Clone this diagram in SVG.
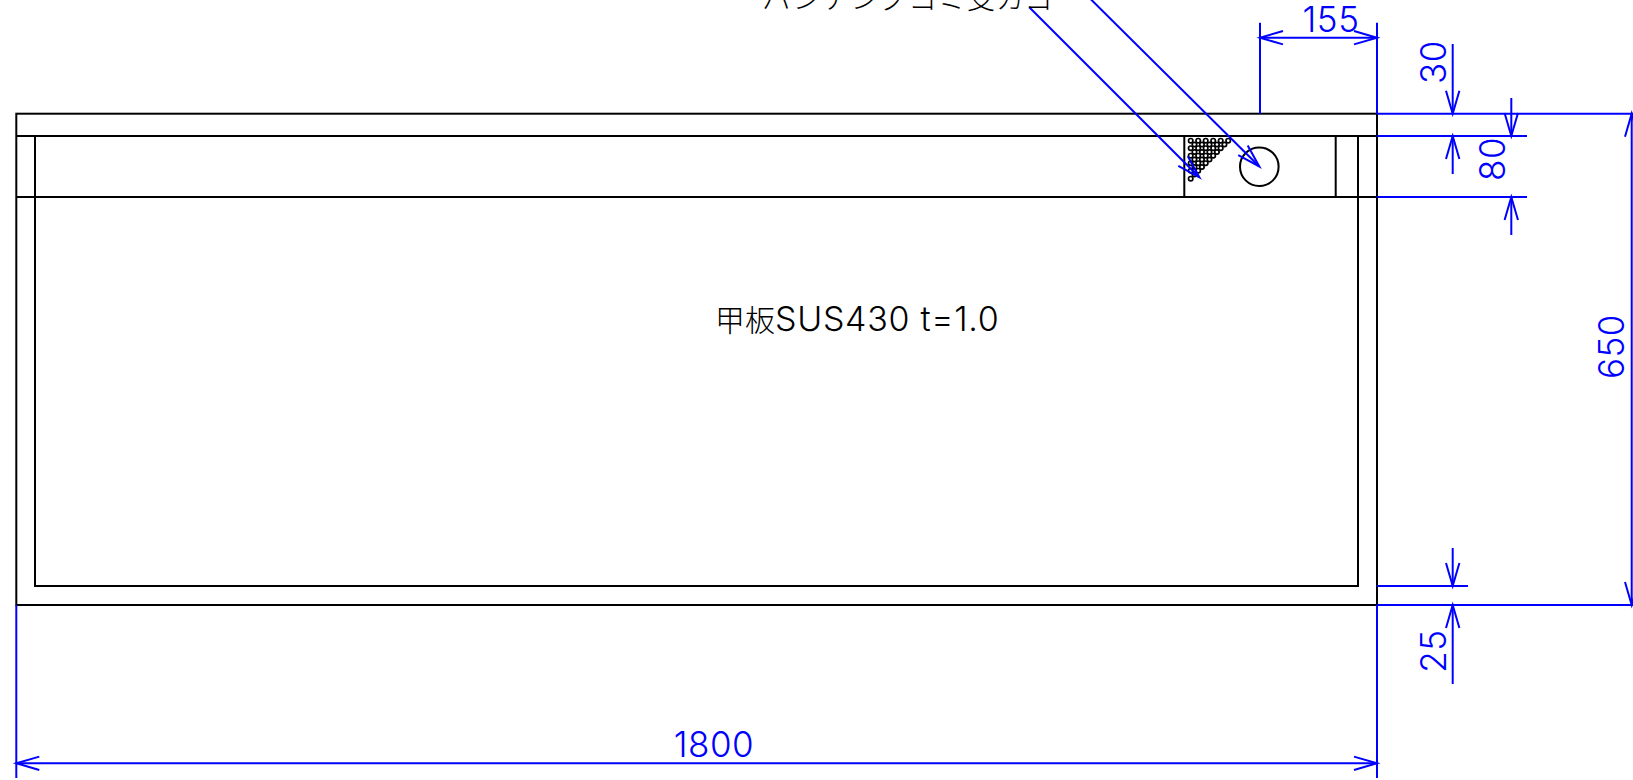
<svg xmlns="http://www.w3.org/2000/svg" width="1633" height="780" viewBox="0 0 1633 780">
<style>
.k{fill:none;stroke:#000;stroke-width:2}
.b{fill:none;stroke:#0000ff;stroke-width:2}
.h{fill:none;stroke:#000;stroke-width:1.7}
.d{fill:#0000ff;font-family:"Inter","Noto Sans CJK JP","Liberation Sans",sans-serif;font-weight:300;font-size:35px;letter-spacing:.5px}
.t{fill:#000;font-family:"Inter","Noto Sans CJK JP","Liberation Sans",sans-serif;font-weight:300;font-size:30px}
.l{font-size:34px;letter-spacing:.7px}
.j{fill:#000;font-family:"Noto Sans CJK JP","Liberation Sans",sans-serif;font-weight:300;font-size:29px}
</style>
<defs>
<marker id="v" markerUnits="userSpaceOnUse" markerWidth="26" markerHeight="18" refX="24" refY="9" orient="auto-start-reverse" overflow="visible">
<path d="M1 2.3L24 9L1 15.7" fill="none" stroke="#0000ff" stroke-width="2"/>
</marker>
<circle id="c" r="2.2" class="h"/>
</defs>
<rect width="1633" height="780" fill="#fff"/>
<g id="plate">
<rect class="k" x="16.3" y="113.7" width="1360.7" height="491.3"/>
<rect class="k" x="35" y="136" width="1323" height="450"/>
<path class="k" d="M16.3 136H1377M16.3 197H1377M1184.3 136V197M1335.7 136V197"/>
</g>
<g id="opening">
<circle class="k" cx="1259.3" cy="166.7" r="19.3"/>
</g>
<g id="punching">
<g class="h">
<use href="#c" x="1190.7" y="140.7"/><use href="#c" x="1198.2" y="140.7"/><use href="#c" x="1205.7" y="140.7"/><use href="#c" x="1213.2" y="140.7"/><use href="#c" x="1220.7" y="140.7"/><use href="#c" x="1228.2" y="140.7"/>
<use href="#c" x="1194.45" y="144.5"/><use href="#c" x="1201.95" y="144.5"/><use href="#c" x="1209.45" y="144.5"/><use href="#c" x="1216.95" y="144.5"/><use href="#c" x="1224.45" y="144.5"/>
<use href="#c" x="1190.7" y="148.2"/><use href="#c" x="1198.2" y="148.2"/><use href="#c" x="1205.7" y="148.2"/><use href="#c" x="1213.2" y="148.2"/><use href="#c" x="1220.7" y="148.2"/>
<use href="#c" x="1194.45" y="152"/><use href="#c" x="1201.95" y="152"/><use href="#c" x="1209.45" y="152"/><use href="#c" x="1216.95" y="152"/>
<use href="#c" x="1190.7" y="155.7"/><use href="#c" x="1198.2" y="155.7"/><use href="#c" x="1205.7" y="155.7"/><use href="#c" x="1213.2" y="155.7"/>
<use href="#c" x="1194.45" y="159.5"/><use href="#c" x="1201.95" y="159.5"/><use href="#c" x="1209.45" y="159.5"/>
<use href="#c" x="1190.7" y="163.2"/><use href="#c" x="1198.2" y="163.2"/><use href="#c" x="1205.7" y="163.2"/>
<use href="#c" x="1194.45" y="167"/><use href="#c" x="1201.95" y="167"/>
<use href="#c" x="1190.7" y="170.7"/><use href="#c" x="1198.2" y="170.7"/>
<use href="#c" x="1194.45" y="174.5"/>
<use href="#c" x="1190.7" y="178.7"/>
</g>
</g>
<g id="connectors">
<path class="b" d="M1377 113.7H1633M1377 136H1527M1377 197H1527M1377 586H1468M1377 605H1633M1260 22.7V113.7M1377 22.7V113.7M1377 605V778M16.3 605V778"/>
<line class="b" x1="1260" y1="37.7" x2="1377" y2="37.7" marker-start="url(#v)" marker-end="url(#v)"/>
<line class="b" x1="16.3" y1="763.3" x2="1377" y2="763.3" marker-start="url(#v)" marker-end="url(#v)"/>
<line class="b" x1="1631.7" y1="113.7" x2="1631.7" y2="605" marker-start="url(#v)" marker-end="url(#v)"/>
<line class="b" x1="1452.7" y1="44" x2="1452.7" y2="113.7" marker-end="url(#v)"/>
<line class="b" x1="1452.7" y1="174" x2="1452.7" y2="136" marker-end="url(#v)"/>
<line class="b" x1="1511.3" y1="98" x2="1511.3" y2="136" marker-end="url(#v)"/>
<line class="b" x1="1511.3" y1="235" x2="1511.3" y2="197" marker-end="url(#v)"/>
<line class="b" x1="1452.7" y1="548" x2="1452.7" y2="586" marker-end="url(#v)"/>
<line class="b" x1="1452.7" y1="684" x2="1452.7" y2="605" marker-end="url(#v)"/>
<line class="b" x1="1029.3" y1="7.3" x2="1199.3" y2="177.3" marker-end="url(#v)"/>
<line class="b" x1="1085" y1="-6.5" x2="1259.3" y2="166.5" marker-end="url(#v)"/>
</g>
<g id="labels">
<text class="j" x="762" y="9">パンチングゴミ受カゴ</text>
<text class="t" x="715" y="331">甲板<tspan class="l">SUS430 t=1.0</tspan></text>
<text class="d" x="1331" y="32" text-anchor="middle">155</text>
<text class="d" x="714" y="757" text-anchor="middle">1800</text>
<text class="d" text-anchor="middle" transform="translate(1624 346.5) rotate(-90)">650</text>
<text class="d" text-anchor="middle" transform="translate(1446 62) rotate(-90)">30</text>
<text class="d" text-anchor="middle" transform="translate(1505 159) rotate(-90)">80</text>
<text class="d" text-anchor="middle" transform="translate(1446 651) rotate(-90)">25</text>
</g>
</svg>
